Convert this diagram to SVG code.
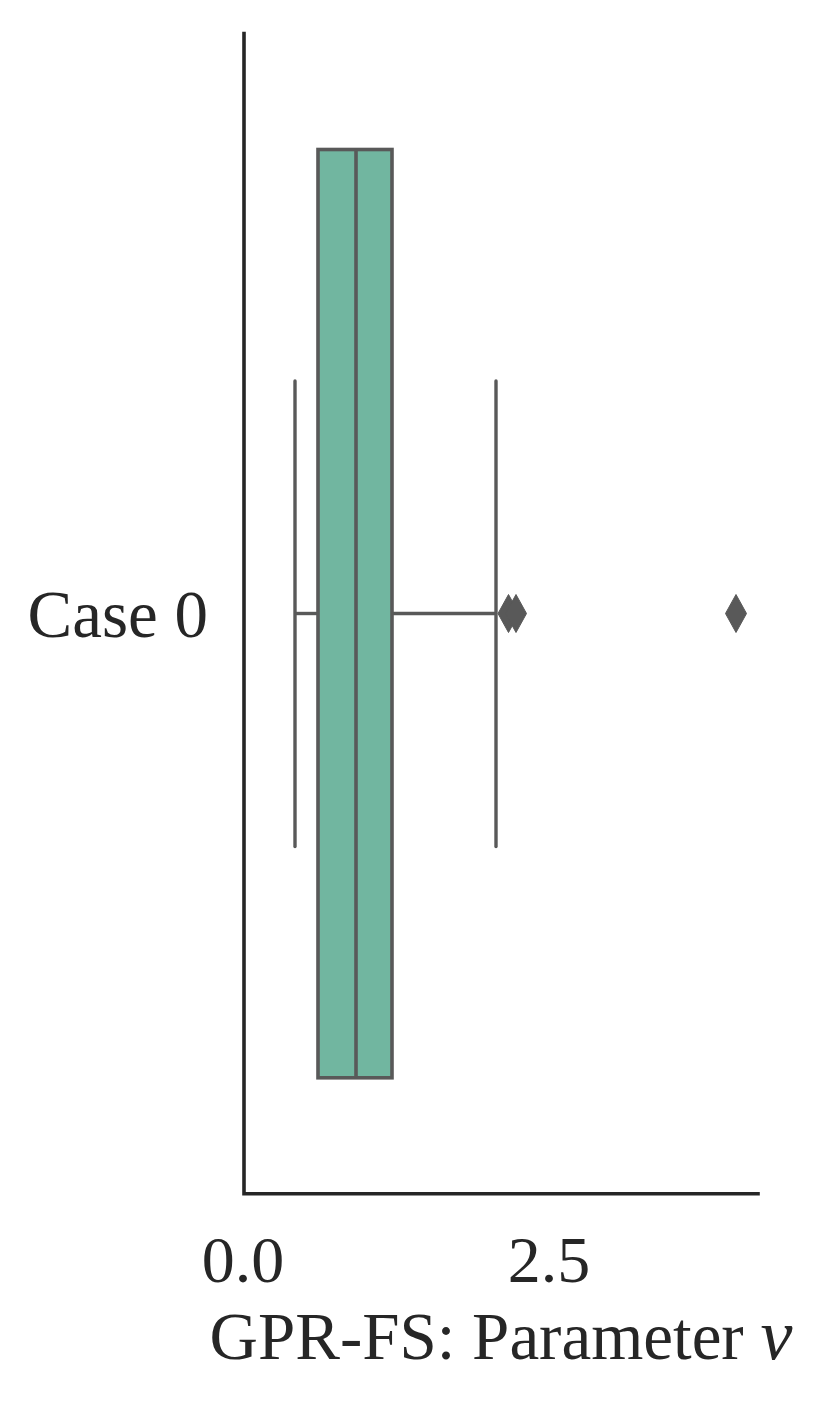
<svg xmlns="http://www.w3.org/2000/svg" width="820" height="1407" viewBox="0 0 820 1407">
<style>
.spine{stroke:#262626;stroke-width:3.6;stroke-linecap:square;fill:none}
.box{fill:#71b6a0;stroke:#595959;stroke-width:3.6}
.ln{stroke:#595959;stroke-width:3.4;fill:none}
.cap{stroke:#595959;stroke-width:3.4;stroke-linecap:round;fill:none}
.flier{fill:#595959;stroke:#595959;stroke-width:1}
.lbl{font-family:"Liberation Serif","Times New Roman",serif;font-size:66px;fill:#262626}
</style>
<defs>
<path id="dm" d="M0,-19 L10.5,0 L0,19 L-10.5,0 Z"/>
</defs>
<rect width="820" height="1407" fill="#ffffff"/>
<g id="axes">
<path class="spine" d="M244,33.5 L244,1193.8 L758,1193.8"/>
</g>
<g id="whiskers">
<line class="ln" x1="295" y1="613.5" x2="318" y2="613.5"/>
<line class="ln" x1="392" y1="613.5" x2="496" y2="613.5"/>
<line class="cap" x1="295" y1="381" x2="295" y2="846.5"/>
<line class="cap" x1="496" y1="381" x2="496" y2="846.5"/>
</g>
<g id="box">
<rect class="box" x="318" y="149.5" width="74" height="928.3"/>
<line class="ln" x1="356" y1="149.5" x2="356" y2="1077.8" style="stroke-width:3.6"/>
</g>
<g id="fliers">
<use href="#dm" class="flier" x="508.5" y="613.5"/>
<use href="#dm" class="flier" x="516" y="613.5"/>
<use href="#dm" class="flier" x="736" y="613.5"/>
</g>
<g id="labels">
<text class="lbl" x="208" y="637" text-anchor="end" style="font-size:67px">Case 0</text>
<text class="lbl" x="243" y="1282" text-anchor="middle">0.0</text>
<text class="lbl" x="549" y="1282" text-anchor="middle">2.5</text>
<text class="lbl" x="501" y="1359" text-anchor="middle" style="font-size:67px">GPR-FS: Parameter <tspan font-style="italic" style="font-size:72px">ν</tspan></text>
</g>
</svg>
